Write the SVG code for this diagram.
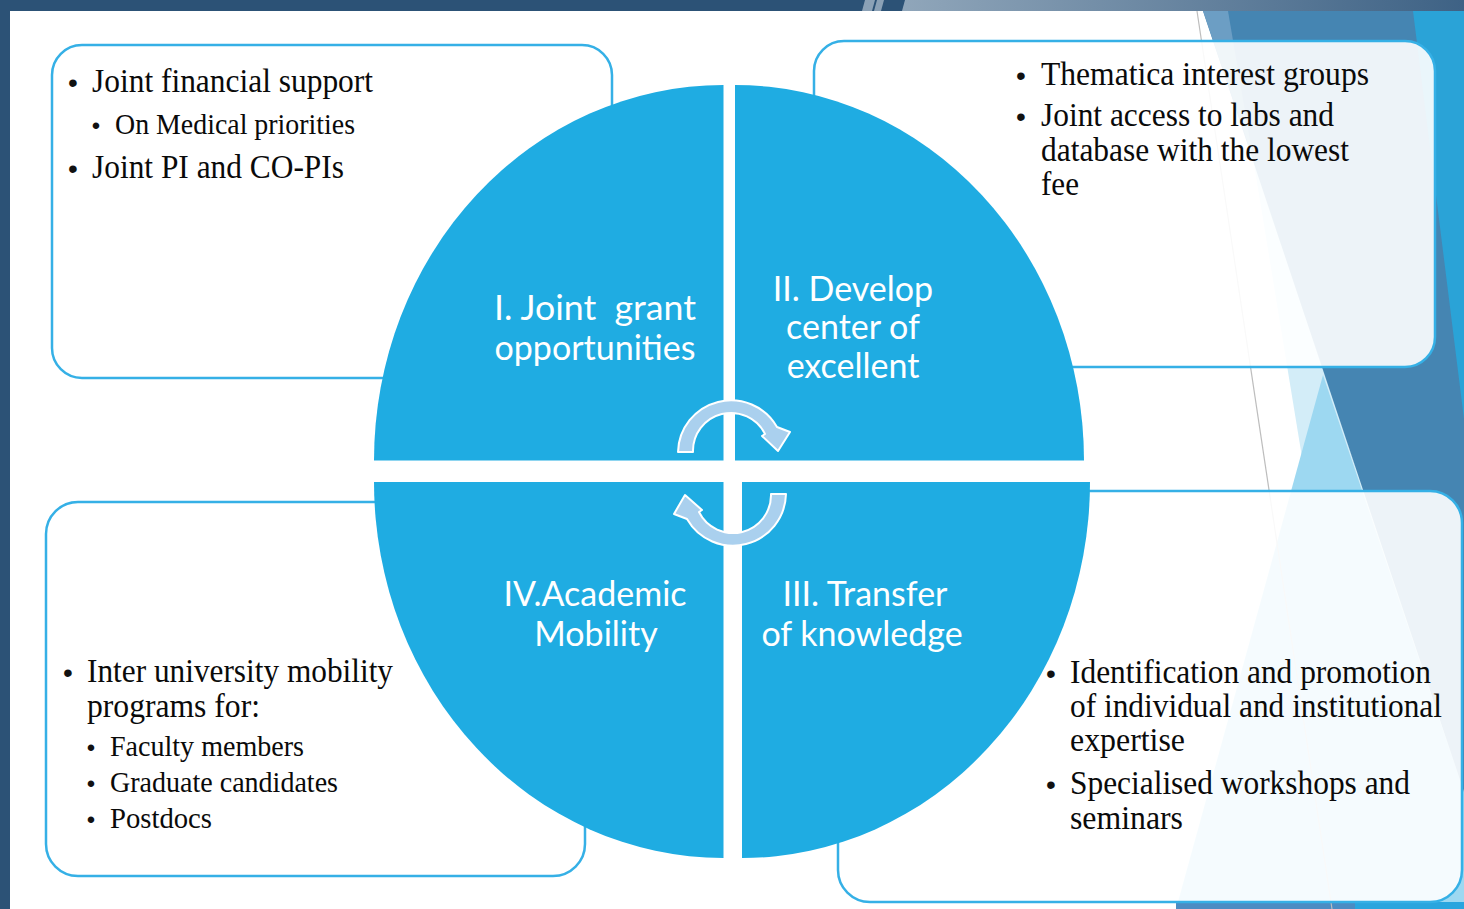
<svg xmlns="http://www.w3.org/2000/svg" width="1464" height="909" viewBox="0 0 1464 909">
<defs>
<linearGradient id="band" x1="0" y1="0" x2="1" y2="0">
<stop offset="0" stop-color="#90A6BA"/>
<stop offset="1" stop-color="#3E6285"/>
</linearGradient>
<style>
.box{fill:#fff;fill-opacity:0.9;stroke:#35B0E6;stroke-width:2.5}
.q{fill:#1FACE2}
.lbl{font-family:Lato,"Open Sans",sans-serif;font-size:34px;fill:#fff;text-anchor:middle;white-space:pre}
.bt{font-family:"Liberation Serif","Times New Roman",serif;font-size:33px;fill:#0a0a0a}
.bs{font-size:29px}
.bul{font-family:"Liberation Sans",Arial,sans-serif;font-size:28px;fill:#111;text-anchor:middle}
.bul2{font-size:24px}
.arr{fill:#AAD0EE;stroke:#fff;stroke-width:2;stroke-linejoin:round}
</style>
</defs>
<!-- background -->
<rect x="0" y="0" width="1464" height="909" fill="#2C5276"/>
<rect x="10" y="11" width="1454" height="898" fill="#fff"/>
<polygon points="865,0 875,0 872,11 862,11" fill="#8BA1B6"/>
<polygon points="877,0 884,0 881,11 874,11" fill="#8BA1B6"/>
<polygon points="905,0 1464,0 1464,11 902,11" fill="url(#band)"/>
<polygon points="1253,158 1376,909 1464,909 1464,792" fill="#D3EDF8"/>
<polygon points="1323,375 1176,909 1464,909 1464,792" fill="#9DD8F1"/>
<polygon points="1203,11 1464,11 1464,792" fill="#4585B2"/>
<polygon points="1203,11 1228,11 1253,158" fill="#6C9EC4"/>
<polygon points="1413,11 1464,11 1464,419" fill="#2AA3D7"/>
<rect x="1176" y="902" width="179" height="7" fill="#4B8CC3"/>
<rect x="1355" y="902" width="109" height="7" fill="#2AA5DE"/>
<line x1="1197" y1="11" x2="1332" y2="909" stroke="#BDBDBD" stroke-width="1.2"/>

<!-- boxes -->
<g id="box-tl">
<rect class="box" x="52" y="45" width="560" height="333" rx="30"/>
<text class="bul" x="73" y="92">•</text>
<text class="bt" x="92" y="92" textLength="281" lengthAdjust="spacingAndGlyphs">Joint financial support</text>
<text class="bul bul2" x="96" y="134">•</text>
<text class="bt bs" x="115" y="134" textLength="240" lengthAdjust="spacingAndGlyphs">On Medical priorities</text>
<text class="bul" x="73" y="178">•</text>
<text class="bt" x="92" y="178" textLength="252" lengthAdjust="spacingAndGlyphs">Joint PI and CO-PIs</text>
</g>
<g id="box-tr">
<rect class="box" x="814" y="41" width="621" height="326" rx="30"/>
<text class="bul" x="1021" y="85">•</text>
<text class="bt" x="1041" y="85" textLength="328" lengthAdjust="spacingAndGlyphs">Thematica interest groups</text>
<text class="bul" x="1021" y="126">•</text>
<text class="bt" x="1041" y="126" textLength="293" lengthAdjust="spacingAndGlyphs">Joint access to labs and</text>
<text class="bt" x="1041" y="161" textLength="308" lengthAdjust="spacingAndGlyphs">database with the lowest</text>
<text class="bt" x="1041" y="195" textLength="38" lengthAdjust="spacingAndGlyphs">fee</text>
</g>
<g id="box-bl">
<rect class="box" x="46" y="502" width="539" height="374" rx="32"/>
<text class="bul" x="68" y="682">•</text>
<text class="bt" x="87" y="682" textLength="306" lengthAdjust="spacingAndGlyphs">Inter university mobility</text>
<text class="bt" x="87" y="717" textLength="173" lengthAdjust="spacingAndGlyphs">programs for:</text>
<text class="bul bul2" x="91" y="756">•</text>
<text class="bt bs" x="110" y="756" textLength="194" lengthAdjust="spacingAndGlyphs">Faculty members</text>
<text class="bul bul2" x="91" y="792">•</text>
<text class="bt bs" x="110" y="792" textLength="228" lengthAdjust="spacingAndGlyphs">Graduate candidates</text>
<text class="bul bul2" x="91" y="828">•</text>
<text class="bt bs" x="110" y="828" textLength="102" lengthAdjust="spacingAndGlyphs">Postdocs</text>
</g>
<g id="box-br">
<rect class="box" x="838" y="491" width="624" height="411" rx="32"/>
<text class="bul" x="1051" y="683">•</text>
<text class="bt" x="1070" y="683" textLength="361" lengthAdjust="spacingAndGlyphs">Identification and promotion</text>
<text class="bt" x="1070" y="717" textLength="372" lengthAdjust="spacingAndGlyphs">of individual and institutional</text>
<text class="bt" x="1070" y="751" textLength="115" lengthAdjust="spacingAndGlyphs">expertise</text>
<text class="bul" x="1051" y="794">•</text>
<text class="bt" x="1070" y="794" textLength="340" lengthAdjust="spacingAndGlyphs">Specialised workshops and</text>
<text class="bt" x="1070" y="829" textLength="113" lengthAdjust="spacingAndGlyphs">seminars</text>
</g>

<!-- quadrants -->
<g id="q1">
<path class="q" d="M723.5,460.5 L374,460.5 A349.5,375.5 0 0 1 723.5,85 Z"/>
<text class="lbl" x="595" y="320" textLength="202" lengthAdjust="spacingAndGlyphs">I. Joint  grant</text>
<text class="lbl" x="595" y="360">opportunities</text>
</g>
<g id="q2">
<path class="q" d="M735,460.5 L735,85 A349,375.5 0 0 1 1084,460.5 Z"/>
<text class="lbl" x="853" y="301">II. Develop</text>
<text class="lbl" x="853" y="339">center of</text>
<text class="lbl" x="853" y="378">excellent</text>
</g>
<g id="q3">
<path class="q" d="M742,482 L1090,482 A348,376 0 0 1 742,858 Z"/>
<text class="lbl" x="865" y="606">III. Transfer</text>
<text class="lbl" x="862" y="646">of knowledge</text>
</g>
<g id="q4">
<path class="q" d="M723.5,482 L723.5,858 A349.5,376 0 0 1 374,482 Z"/>
<text class="lbl" x="595" y="606">IV.Academic</text>
<text class="lbl" x="596" y="646">Mobility</text>
</g>

<!-- connectors: cycle arrows -->
<g id="connectors">
<path class="arr" d="M678,452 A53,53 0 0 1 777,427 L790,432 L778,451 L762,436 L765,434 A38,38 0 0 0 693,452 Z"/>
<path class="arr" d="M786,494 A53,53 0 0 1 687,519 L674,514 L685,495 L702,510 L699,512 A38,38 0 0 0 771,494 Z"/>
</g>
</svg>
